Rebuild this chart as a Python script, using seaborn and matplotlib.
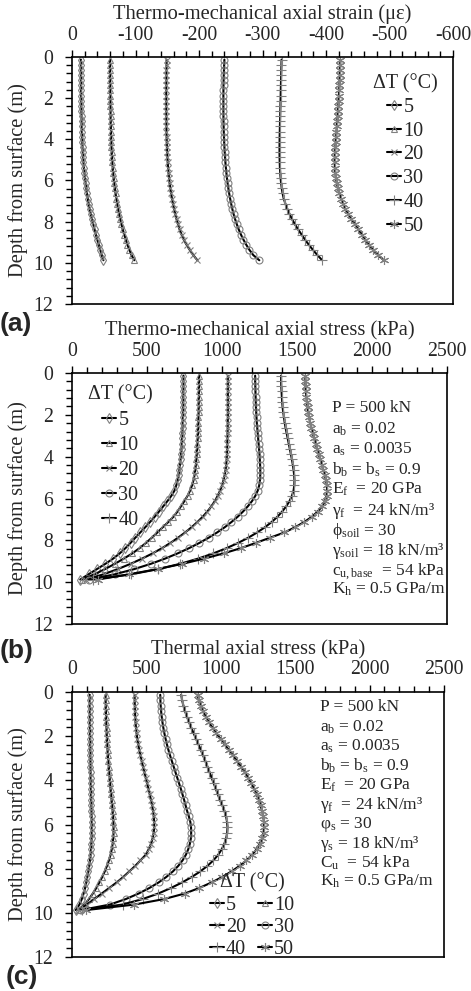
import matplotlib
matplotlib.use("Agg")
import matplotlib.pyplot as plt
import pandas as pd
import seaborn as sns
from matplotlib.ticker import MultipleLocator

sns.set_theme(style="ticks")
plt.rcParams["font.family"] = ["Liberation Serif", "DejaVu Serif"]
plt.rcParams["mathtext.fontset"] = "custom"
plt.rcParams["mathtext.rm"] = "Liberation Serif"
plt.rcParams["mathtext.it"] = "Liberation Serif:italic"
plt.rcParams["axes.unicode_minus"] = False

# ---------------------------------------------------------------- data
DEPTH = [0.125, 0.375, 0.625, 0.875, 1.125, 1.375, 1.625, 1.875, 2.125, 2.375,
         2.625, 2.875, 3.125, 3.375, 3.625, 3.875, 4.125, 4.375, 4.625, 4.875,
         5.125, 5.375, 5.625, 5.875, 6.125, 6.375, 6.625, 6.875, 7.125, 7.375,
         7.625, 7.875, 8.125, 8.375, 8.625, 8.875, 9.125, 9.375, 9.625, 9.875]

DT_LEVELS = [5, 10, 20, 30, 40, 50]

# (a) thermo-mechanical axial strain (micro-strain)
STRAIN_5 = [-14.0, -14.0, -14.0, -14.1, -14.1, -14.2, -14.3, -14.4, -14.5, -14.6,
            -14.8, -15.0, -15.2, -15.4, -15.6, -15.9, -16.2, -16.6, -17.0, -17.5,
            -18.1, -18.8, -19.6, -20.5, -21.5, -22.5, -23.6, -24.8, -26.0, -27.6,
            -29.5, -31.5, -33.5, -35.5, -37.5, -39.8, -42.2, -44.5, -46.8, -49.5]
STRAIN_10 = [-60.0, -60.0, -60.0, -60.1, -60.1, -60.2, -60.3, -60.4, -60.5, -60.6,
             -60.7, -60.8, -61.0, -61.2, -61.4, -61.6, -61.9, -62.2, -62.6, -63.0,
             -63.5, -64.1, -64.8, -65.6, -66.5, -67.5, -68.6, -69.8, -71.1, -72.5,
             -74.1, -75.9, -77.8, -79.9, -82.2, -84.7, -87.4, -90.4, -93.8, -98.0]
STRAIN_20 = [-149.0, -148.9, -148.8, -148.7, -148.6, -148.5, -148.4, -148.4, -148.4, -148.4,
             -148.4, -148.5, -148.6, -148.7, -148.8, -149.0, -149.2, -149.5, -149.8, -150.2,
             -150.7, -151.3, -152.0, -152.8, -153.7, -154.8, -156.0, -157.4, -158.9, -160.6,
             -162.5, -164.6, -166.9, -169.4, -172.5, -176.0, -180.5, -185.5, -191.0, -197.5]
STRAIN_30 = [-240.0, -239.6, -239.3, -239.0, -238.8, -238.6, -238.5, -238.4, -238.4, -238.4,
             -238.4, -238.5, -238.6, -238.8, -239.0, -239.3, -239.6, -240.0, -240.5, -241.0,
             -241.6, -242.3, -243.1, -244.0, -245.0, -246.2, -247.5, -249.0, -250.6, -252.4,
             -254.4, -256.8, -259.5, -262.5, -266.0, -270.0, -274.5, -279.5, -285.5, -295.0]
STRAIN_40 = [-330.0, -329.8, -329.6, -329.4, -329.2, -329.0, -328.8, -328.6, -328.4, -328.2,
             -328.0, -327.8, -327.6, -327.4, -327.2, -327.0, -326.9, -326.8, -326.8, -326.9,
             -327.1, -327.4, -327.9, -328.5, -329.3, -330.3, -331.6, -333.4, -336.0, -339.0,
             -342.5, -346.5, -351.0, -356.0, -361.5, -367.0, -373.0, -379.5, -386.5, -394.0]
STRAIN_50 = [-422.5, -422.3, -422.0, -421.7, -421.4, -421.1, -420.7, -420.3, -419.8, -419.3,
             -418.8, -418.3, -417.7, -417.1, -416.5, -415.9, -415.3, -414.7, -414.2, -413.9,
             -413.8, -414.0, -414.6, -415.6, -417.0, -418.8, -421.0, -423.6, -426.6, -430.5,
             -435.0, -440.0, -445.5, -451.0, -456.5, -462.0, -468.0, -474.5, -482.0, -491.0]

# (b) thermo-mechanical axial stress (kPa)
TM_STRESS_5 = [743, 743, 743, 742, 742, 741, 741, 740, 739, 738,
               737, 736, 734, 732, 730, 727, 724, 720, 716, 711,
               705, 695, 683, 662, 636, 608, 580, 551, 520, 488,
               455, 422, 390, 356, 318, 274, 222, 166, 110, 55]
TM_STRESS_10 = [847, 847, 847, 846, 846, 845, 845, 844, 843, 842,
                841, 840, 838, 836, 834, 832, 829, 826, 822, 817,
                810, 800, 787, 770, 749, 726, 703, 676, 642, 605,
                569, 532, 493, 450, 402, 345, 285, 220, 150, 65]
TM_STRESS_20 = [1039, 1039, 1039, 1039, 1039, 1039, 1039, 1039, 1039, 1038,
                1038, 1037, 1036, 1035, 1034, 1033, 1031, 1028, 1024, 1018,
                1010, 1000, 987, 971, 952, 929, 902, 871, 836, 797,
                754, 707, 656, 600, 537, 467, 390, 305, 210, 90]
TM_STRESS_30 = [1221, 1221, 1222, 1223, 1224, 1225, 1226, 1228, 1230, 1232,
                1235, 1238, 1241, 1244, 1247, 1250, 1252, 1254, 1255, 1255,
                1253, 1248, 1238, 1222, 1200, 1172, 1140, 1104, 1063, 1018,
                967, 911, 849, 780, 704, 620, 525, 415, 285, 110]
TM_STRESS_40 = [1394, 1394, 1395, 1397, 1399, 1401, 1404, 1408, 1413, 1418,
                1424, 1431, 1438, 1445, 1452, 1459, 1466, 1472, 1477, 1481,
                1483, 1482, 1477, 1466, 1450, 1428, 1401, 1369, 1331, 1286,
                1234, 1175, 1107, 1030, 942, 840, 720, 575, 395, 140]
TM_STRESS_50 = [1555, 1556, 1557, 1559, 1562, 1566, 1570, 1575, 1581, 1588,
                1596, 1605, 1614, 1624, 1634, 1644, 1655, 1665, 1675, 1685,
                1693, 1699, 1701, 1697, 1686, 1667, 1638, 1599, 1548, 1487,
                1416, 1320, 1225, 1125, 1010, 880, 735, 570, 380, 170]

# (c) thermal axial stress (kPa)
TH_STRESS_5 = [119, 119, 119, 120, 120, 120, 121, 121, 122, 122,
               123, 123, 124, 124, 125, 125, 126, 127, 128, 129,
               130, 131, 132, 133, 133, 133, 132, 130, 128, 125,
               121, 116, 110, 103, 96, 88, 78, 66, 50, 25]
TH_STRESS_10 = [226, 226, 227, 228, 229, 230, 232, 233, 235, 237,
                239, 241, 244, 247, 250, 253, 256, 259, 263, 266,
                270, 273, 276, 278, 279, 279, 277, 273, 267, 259,
                248, 235, 220, 203, 184, 163, 140, 114, 85, 40]
TH_STRESS_20 = [421, 421, 422, 423, 425, 427, 430, 434, 439, 445,
                452, 460, 468, 477, 486, 495, 504, 513, 522, 530,
                538, 544, 549, 552, 552, 549, 542, 531, 515, 495,
                460, 425, 385, 345, 300, 250, 200, 150, 100, 45]
TH_STRESS_30 = [593, 594, 596, 599, 603, 608, 614, 621, 629, 638,
                648, 659, 671, 683, 695, 707, 719, 731, 742, 753,
                763, 773, 785, 795, 800, 801, 799, 792, 781, 765,
                743, 714, 678, 634, 582, 520, 448, 362, 255, 60]
TH_STRESS_40 = [734, 740, 749, 760, 773, 787, 802, 818, 834, 850,
                866, 881, 896, 910, 924, 938, 952, 966, 980, 993,
                1010, 1024, 1035, 1042, 1045, 1043, 1036, 1024, 1006, 982,
                950, 910, 862, 805, 740, 665, 580, 475, 340, 70]
TH_STRESS_50 = [844, 852, 864, 880, 899, 921, 945, 971, 998, 1026,
                1054, 1082, 1109, 1135, 1160, 1183, 1204, 1223, 1240, 1255,
                1267, 1277, 1285, 1290, 1291, 1287, 1278, 1262, 1240, 1210,
                1172, 1126, 1072, 1010, 938, 855, 758, 620, 420, 95]

PARAMS_B = ["P = 500 kN",
            r"a$_\mathrm{b}$ = 0.02",
            r"a$_\mathrm{s}$ = 0.0035",
            r"b$_\mathrm{b}$ = b$_\mathrm{s}$ = 0.9",
            r"E$_\mathrm{f}$  = 20 GPa",
            r"γ$_\mathrm{f}$  = 24 kN/m³",
            r"ϕ$_\mathrm{soil}$ = 30",
            r"γ$_\mathrm{soil}$ = 18 kN/m³",
            r"c$_\mathrm{u,base}$  = 54 kPa",
            r"K$_\mathrm{h}$ = 0.5 GPa/m"]
PARAMS_C = ["P = 500 kN",
            r"a$_\mathrm{b}$ = 0.02",
            r"a$_\mathrm{s}$ = 0.0035",
            r"b$_\mathrm{b}$ = b$_\mathrm{s}$ = 0.9",
            r"E$_\mathrm{f}$  = 20 GPa",
            r"γ$_\mathrm{f}$  = 24 kN/m³",
            r"φ$_\mathrm{s}$ = 30",
            r"γ$_\mathrm{s}$ = 18 kN/m³",
            r"C$_\mathrm{u}$  = 54 kPa",
            r"K$_\mathrm{h}$ = 0.5 GPa/m"]


def long_frame(series):
    rows = []
    for lvl, vals in zip(DT_LEVELS, series):
        for d, v in zip(DEPTH, vals):
            rows.append({"dT": lvl, "depth": d, "value": v})
    return pd.DataFrame(rows)


df_a = long_frame([STRAIN_5, STRAIN_10, STRAIN_20, STRAIN_30, STRAIN_40, STRAIN_50])
df_b = long_frame([TM_STRESS_5, TM_STRESS_10, TM_STRESS_20, TM_STRESS_30, TM_STRESS_40, TM_STRESS_50])
df_c = long_frame([TH_STRESS_5, TH_STRESS_10, TH_STRESS_20, TH_STRESS_30, TH_STRESS_40, TH_STRESS_50])

MARKERS = {5: ("d", 5), 10: ("^", 4.5), 20: ("x", 4.5), 30: ("o", 5), 40: ("+", 6.5), 50: ((6, 2, 0), 6.5)}
FS_TICK = 14.2
FS_LABEL = 14.8

# ---------------------------------------------------------------- figure
fig = plt.figure(figsize=(4.71, 9.91), dpi=100)
W, H = 471, 991


def add_axes(l, r, t, b):
    return fig.add_axes([l / W, 1 - b / H, (r - l) / W, (b - t) / H])


ax_a = add_axes(72, 453, 57, 304)
ax_b = add_axes(72, 447, 373, 624)
ax_c = add_axes(72, 444, 692, 957)


def draw_panel(ax, df, xlim, major, minor, xlabel, label_y):
    for lvl in DT_LEVELS:
        m, ms = MARKERS[lvl]
        sns.lineplot(data=df[df["dT"] == lvl], x="value", y="depth", ax=ax,
                     sort=False, estimator=None, color="black", linewidth=1.5,
                     marker=m, markersize=ms, markerfacecolor="none",
                     markeredgecolor="0.5", markeredgewidth=0.8)
    ax.set_xlim(*xlim)
    ax.set_ylim(12, 0)
    ax.xaxis.set_major_locator(MultipleLocator(major))
    ax.xaxis.set_minor_locator(MultipleLocator(minor))
    ax.yaxis.set_major_locator(MultipleLocator(2))
    ax.yaxis.set_minor_locator(MultipleLocator(0.4))
    ax.xaxis.tick_top()
    ax.xaxis.set_label_position("top")
    ax.set_xlabel(xlabel, fontsize=FS_LABEL)
    ax.xaxis.set_label_coords(0.5, label_y)
    ax.set_ylabel("Depth from surface (m)", fontsize=FS_LABEL, labelpad=4)
    ax.tick_params(axis="both", which="major", direction="out", length=5,
                   width=1.0, labelsize=FS_TICK, color="black")
    ax.tick_params(axis="x", which="major", pad=4)
    ax.tick_params(axis="y", which="major", pad=8.5)
    ax.tick_params(axis="both", which="minor", direction="out", length=4,
                   width=1.0, color="black")
    ax.tick_params(axis="x", which="both", bottom=False, top=True)
    ax.tick_params(axis="y", which="both", left=True, right=False)
    for sp in ax.spines.values():
        sp.set_visible(True)
        sp.set_linewidth(1.2)
        sp.set_color("black")
    ax.set_facecolor("white")


# axis-title baseline sits 37.5 px above each panel's top edge
draw_panel(ax_a, df_a, (0, -600), 100, 20, "Thermo-mechanical axial strain (με)", 1 + 37.5 / 247)
draw_panel(ax_b, df_b, (0, 2500), 500, 100, "Thermo-mechanical axial stress (kPa)", 1 + 37.5 / 251)
draw_panel(ax_c, df_c, (0, 2500), 500, 100, "Thermal axial stress (kPa)", 1 + 37.5 / 265)

leg_kw = dict(title="ΔT (°C)", frameon=False, fontsize=14.5, title_fontsize=14.5,
              handlelength=0.7, handletextpad=0.1, borderpad=0.0, borderaxespad=0.0,
              loc="upper left", numpoints=1)
ax_a.legend(handles=ax_a.lines[:6], labels=[str(v) for v in DT_LEVELS],
            bbox_to_anchor=(0.79, 0.932), labelspacing=0.23, **leg_kw)
ax_b.legend(handles=ax_b.lines[:5], labels=[str(v) for v in DT_LEVELS[:5]],
            bbox_to_anchor=(0.043, 0.952), labelspacing=0.30, **leg_kw)
order = [0, 2, 4, 1, 3, 5]
ax_c.legend(handles=[ax_c.lines[i] for i in order],
            labels=[str(DT_LEVELS[i]) for i in order],
            bbox_to_anchor=(0.37, 0.315), ncol=2, columnspacing=0.6,
            labelspacing=0.15, **leg_kw)

for ax, lines, x0, y0, dy in [(ax_b, PARAMS_B, 0.693, 0.892, 0.080),
                              (ax_c, PARAMS_C, 0.667, 0.972, 0.0725)]:
    for i, txt in enumerate(lines):
        ax.text(x0, y0 - i * dy, txt, transform=ax.transAxes, fontsize=12.5,
                va="top", ha="left")

for lab, x, y in [("(a)", 0.0, 324), ("(b)", 0.0, 651), ("(c)", 0.012, 977)]:
    fig.text(x, 1 - y / H, lab, fontsize=19, fontweight="bold",
             family=["Liberation Sans", "DejaVu Sans"], va="center", ha="left")

fig.savefig("out.png", dpi=100, facecolor="white")
